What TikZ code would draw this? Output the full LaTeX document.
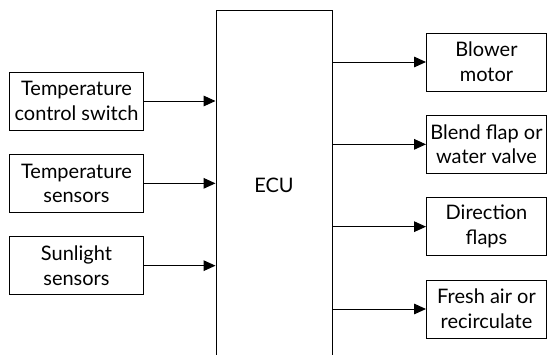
\documentclass[tikz,border=0pt]{standalone}
\usepackage{fontspec}
\setmainfont{Lato}
\usetikzlibrary{arrows.meta, positioning}

\begin{document}
\begin{tikzpicture}[
  x = 0.75pt, y = -0.75pt,
  node distance = 17.5pt and 1cm,
  box/.style = {
    rectangle, draw, line width=0.75pt,
    minimum height=43.5pt, inner sep=0pt,
    align=center, font=\fontsize{15}{18.5}\selectfont
  },
  inbox/.style  = {box, minimum width=101pt},
  outbox/.style = {box, minimum width=90pt},
  ecubox/.style = {box, minimum width=87pt, minimum height=262pt},
  arrow/.style  = {-{Triangle[length=9pt, width=8pt]}, line width=0.75pt}
]
\useasboundingbox (0,0) rectangle (547,354);
%--- ECU ---
\node[ecubox] (ecu) at (274,185.5) {ECU};
%--- INPUTS ---
\node[inbox] (in1) at (76.5,101) {Temperature\\control switch};
\node[inbox, below=of in1] (in2) {Temperature\\sensors};
\node[inbox, below=of in2] (in3) {Sunlight\\sensors};
%--- OUTPUTS ---
\node[outbox] (out1) at (486.5,62) {Blower\\motor};
\node[outbox, below=of out1] (out2) {Blend flap or\\water valve};
\node[outbox, below=of out2] (out3) {Direction\\flaps};
\node[outbox, below=of out3] (out4) {Fresh air or\\recirculate};
%--- ARROWS ---
\foreach \i in {1,2,3}
  \draw[arrow] (in\i.east) -- (in\i.east -| ecu.west);
\foreach \i in {1,...,4}
  \draw[arrow] (ecu.east |- out\i.west) -- (out\i.west);
\end{tikzpicture}
\end{document}
